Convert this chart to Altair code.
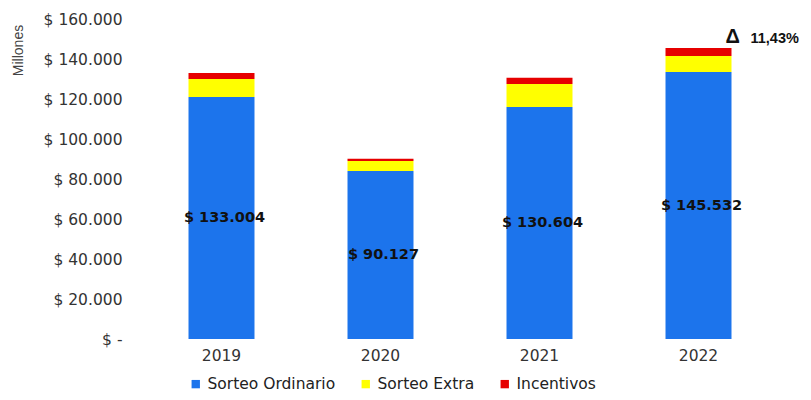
import altair as alt
import pandas as pd

years = ["2019", "2020", "2021", "2022"]
ordinario = [121000, 84000, 116000, 133500]
extra = [9000, 5000, 11500, 8000]
incentivos = [3004, 1127, 3104, 4032]
totals = [133004, 90127, 130604, 145532]
series = ["Sorteo Ordinario", "Sorteo Extra", "Incentivos"]
colors = ["#1c74ec", "#ffff00", "#e60000"]
delta_symbol = "Δ"
delta_value = "11,43%"
y_ticks = [0, 20000, 40000, 60000, 80000, 100000, 120000, 140000, 160000]

rows = []
for i, y in enumerate(years):
    for k, (s, vals) in enumerate(zip(series, [ordinario, extra, incentivos])):
        rows.append({"year": y, "serie": s, "value": vals[i], "ord": k})
df = pd.DataFrame(rows)

lab = pd.DataFrame({
    "year": years,
    "ordinario": ordinario,
    "total": totals,
    "label": ["$ " + f"{t:,}".replace(",", ".") for t in totals],
})
lab["mid"] = lab["ordinario"] / 2

delta = pd.DataFrame({"year": [years[-1]], "total": [totals[-1]],
                      "sym": [delta_symbol], "val": [delta_value]})

FONT = "DejaVu Sans"

x_scale = alt.Scale(paddingInner=0.585, paddingOuter=0.2925)
x_axis = alt.Axis(labelAngle=0, labelFontSize=15.5, labelColor="#333333",
                  labelFont=FONT, ticks=False, domain=False, labelPadding=9)
y_scale = alt.Scale(domain=[0, 160000], nice=False)
y_axis = alt.Axis(values=y_ticks, grid=False, ticks=False, domain=False,
                  labelOverlap=False,
                  labelFontSize=15.5, labelColor="#333333", labelFont=FONT,
                  labelPadding=20,
                  labelExpr="datum.value == 0 ? '$ -' : '$ ' + replace(format(datum.value, ',.0f'), /,/g, '.')",
                  titleFont="Liberation Sans", titleFontSize=14, titleFontWeight="normal",
                  titleColor="#444444", titleAngle=-90, titleX=-124, titleY=31,
                  titleAlign="center", titleBaseline="middle")


def X():
    return alt.X("year:N", title=None, scale=x_scale, axis=x_axis)


def Y(field, **kw):
    return alt.Y(field, title="Millones", scale=y_scale, axis=y_axis, **kw)


bars = alt.Chart(df).mark_bar().encode(
    x=X(),
    y=Y("value:Q", stack="zero"),
    color=alt.Color("serie:N", scale=alt.Scale(domain=series, range=colors),
                    legend=alt.Legend(title=None, orient="none", direction="horizontal",
                                      legendX=46, legendY=357, symbolType="square",
                                      symbolSize=70, symbolStrokeWidth=0,
                                      labelFontSize=15.5, labelFont=FONT, labelColor="#222222",
                                      columnPadding=22, labelOffset=4)),
    order=alt.Order("ord:Q", sort="ascending"),
)

labels = alt.Chart(lab).mark_text(fontSize=14.5, fontWeight="bold", font=FONT,
                                  color="#111111", baseline="middle", dx=3).encode(
    x=X(), y=Y("mid:Q"), text="label:N")

delta_sym = alt.Chart(delta).mark_text(fontSize=20, fontWeight="bold", font="Liberation Sans",
                                       color="#111111", align="left", baseline="alphabetic",
                                       dx=27, dy=-5).encode(
    x=X(), y=Y("total:Q"), text="sym:N")

delta_val = alt.Chart(delta).mark_text(fontSize=14.5, fontWeight="bold", font="Liberation Sans",
                                       color="#111111", align="left", baseline="alphabetic",
                                       dx=52, dy=-5).encode(
    x=X(), y=Y("total:Q"), text="val:N")

chart = alt.layer(bars, labels, delta_sym, delta_val).properties(
    width=636, height=320,
    autosize=alt.AutoSizeParams(type="none"),
    padding={"left": 134, "top": 11, "right": 25, "bottom": 53},
).configure(background="white").configure_view(strokeWidth=0, stroke=None
).configure_axisY(labelOverlap=False)

chart.save("out.html", embed_options={"renderer": "svg", "actions": False})
